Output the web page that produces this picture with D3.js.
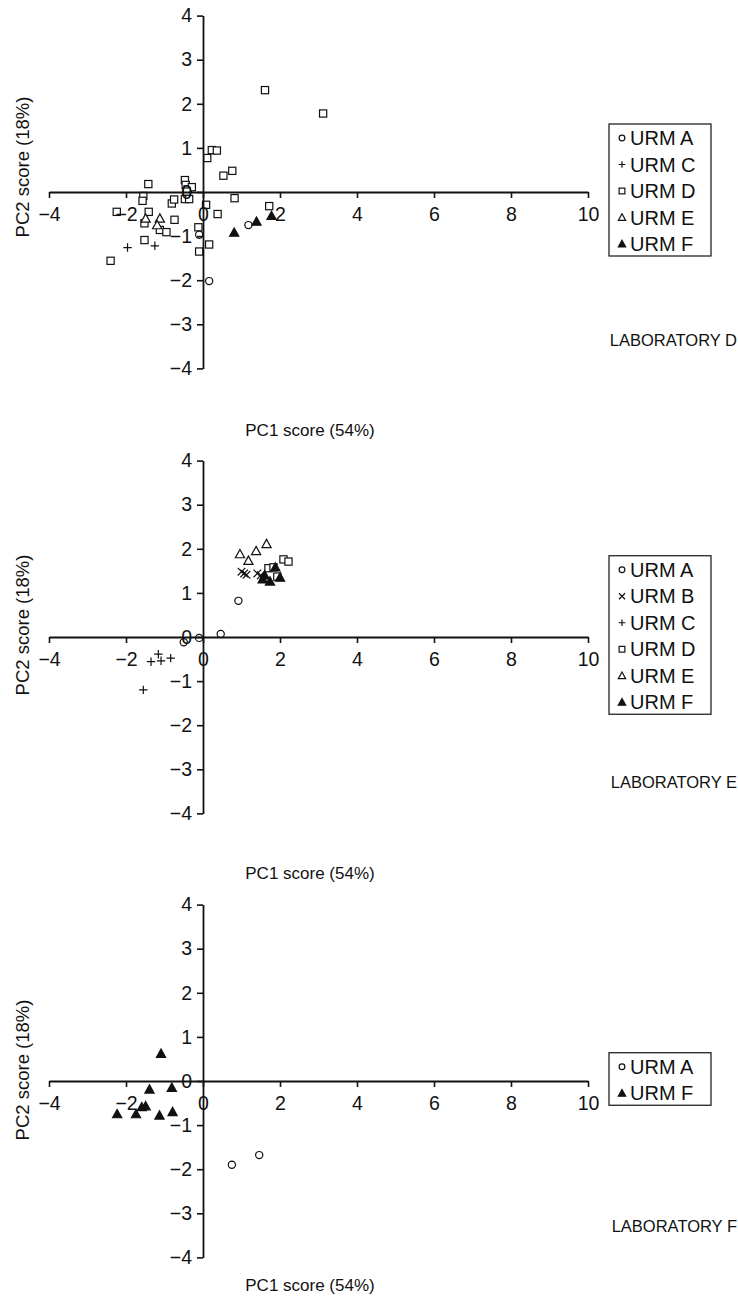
<!DOCTYPE html>
<html><head><meta charset="utf-8">
<script src="https://cdn.jsdelivr.net/npm/d3@7"></script>
<style>
html,body{margin:0;padding:0;background:#fff;}
text{font-family:"Liberation Sans",Arial,Helvetica,sans-serif;fill:#111;}
</style></head>
<body>
<svg id="chart" width="738" height="1303"></svg>
<script>
// ---------- DATA ----------
const xTicks = [-4, -2, 0, 2, 4, 6, 8, 10];
const yTicks = [-4, -3, -2, -1, 0, 1, 2, 3, 4];
const xTitle = "PC1 score (54%)";
const yTitle = "PC2 score (18%)";
const labTitles = ["LABORATORY D", "LABORATORY E", "LABORATORY F"];

// Laboratory D
const labD_A = [[-0.10,-0.97],[0.16,-2.02],[1.18,-0.75]];
const labD_C = [[-1.96,-1.26],[-1.25,-1.22]];
const labD_D = [[0.11,0.77],[0.23,0.95],[0.36,0.94],[0.53,0.37],[0.76,0.48],[0.82,-0.14],
  [-1.42,0.18],[-1.55,-0.09],[-1.57,-0.20],[-2.24,-0.45],[-1.41,-0.45],[-1.52,-0.71],
  [-1.52,-1.09],[-2.40,-1.56],[-1.12,-0.86],[-0.95,-0.91],[-0.74,-0.63],[-0.81,-0.26],
  [-0.75,-0.17],[-0.47,0.27],[-0.45,0.16],[-0.40,0.06],[-0.29,0.11],[-0.47,-0.16],
  [-0.36,-0.16],[-0.42,0.01],[0.08,-0.29],[0.38,-0.50],[-0.12,-0.80],[-0.10,-1.35],
  [0.16,-1.19],[1.61,2.31],[3.12,1.78],[1.72,-0.32]];
const labD_E = [[-1.49,-0.60],[-1.12,-0.60],[-1.19,-0.75]];
const labD_F = [[0.81,-0.92],[1.39,-0.67],[1.78,-0.54]];

// Laboratory E
const labE_A = [[-0.10,-0.02],[0.46,0.07],[0.92,0.82],[-0.50,-0.12]];
const labE_B = [[1.00,1.48],[1.07,1.44],[1.13,1.41],[1.41,1.44],[1.50,1.40]];
const labE_C = [[-1.16,-0.39],[-0.84,-0.48],[-1.35,-0.56],[-1.09,-0.54],[-1.55,-1.20]];
const labE_D = [[2.09,1.76],[2.22,1.71],[1.70,1.56],[1.83,1.58],[1.93,1.37]];
const labE_E = [[0.96,1.88],[1.18,1.73],[1.38,1.95],[1.65,2.11]];
const labE_F = [[1.55,1.31],[1.74,1.26],[1.88,1.58],[2.00,1.35],[1.60,1.40]];

// Laboratory F
const labF_A = [[0.75,-1.90],[1.46,-1.68]];
const labF_F = [[-1.09,0.62],[-1.39,-0.19],[-0.81,-0.15],[-1.59,-0.59],[-1.49,-0.57],
  [-2.23,-0.75],[-1.74,-0.75],[-1.13,-0.78],[-0.79,-0.70]];

const legendD = ["URM A","URM C","URM D","URM E","URM F"];
const legendE = ["URM A","URM B","URM C","URM D","URM E","URM F"];
const legendF = ["URM A","URM F"];

// marker type per URM
const markerOf = {"URM A":"circle","URM B":"times","URM C":"plus","URM D":"square","URM E":"triOpen","URM F":"triFill"};

const panels = [
  {axisY:192, yTitleY:167, xTitleY:436, labY:346, title:labTitles[0], legend:legendD,
   series:[["URM D",labD_D],["URM C",labD_C],["URM E",labD_E],["URM A",labD_A],["URM F",labD_F]]},
  {axisY:637, yTitleY:625, xTitleY:879, labY:788, title:labTitles[1], legend:legendE,
   series:[["URM A",labE_A],["URM C",labE_C],["URM E",labE_E],["URM B",labE_B],["URM D",labE_D],["URM F",labE_F]]},
  {axisY:1081, yTitleY:1070, xTitleY:1291, labY:1232, title:labTitles[2], legend:legendF,
   series:[["URM A",labF_A],["URM F",labF_F]]}
];

// ---------- DRAW ----------
const svg = d3.select("#chart");
const x = d3.scaleLinear().domain([-4,10]).range([49,588]);
const unitY = 44.1;

function drawMarker(g, type, s){
  const sw = 1.2;
  if(type==="circle"){
    g.append("circle").attr("r",3.6*s).attr("fill","#fff").attr("stroke","#111").attr("stroke-width",sw);
  } else if(type==="square"){
    const h=3.6*s;
    g.append("rect").attr("x",-h).attr("y",-h).attr("width",2*h).attr("height",2*h)
      .attr("fill","#fff").attr("stroke","#111").attr("stroke-width",sw);
  } else if(type==="plus"){
    const h=4.2*s;
    g.append("path").attr("d",`M${-h},0H${h}M0,${-h}V${h}`).attr("stroke","#111").attr("stroke-width",sw).attr("fill","none");
  } else if(type==="times"){
    const h=3.8*s;
    g.append("path").attr("d",`M${-h},${-h}L${h},${h}M${-h},${h}L${h},${-h}`).attr("stroke","#111").attr("stroke-width",sw).attr("fill","none");
  } else if(type==="triOpen" || type==="triFill"){
    const h=4.6*s;
    g.append("path").attr("d",`M0,${-h}L${h},${h*0.8}L${-h},${h*0.8}Z`)
      .attr("fill", type==="triFill" ? "#111" : "#fff").attr("stroke","#111").attr("stroke-width",sw)
      .attr("stroke-linejoin","miter");
  }
}

panels.forEach((p,i)=>{
  const y = d3.scaleLinear().domain([-4,4]).range([p.axisY+4*unitY, p.axisY-4*unitY]);
  const g = svg.append("g");

  // points
  p.series.forEach(([name,pts])=>{
    pts.forEach(d=>{
      const mg = g.append("g").attr("transform",`translate(${x(d[0])},${y(d[1])})`);
      drawMarker(mg, markerOf[name], 1);
    });
  });

  // x axis
  const xa = g.append("g").attr("transform",`translate(0,${p.axisY})`)
    .call(d3.axisBottom(x).tickValues(xTicks).tickSize(6).tickSizeOuter(0).tickPadding(9));
  // y axis
  const ya = g.append("g").attr("transform",`translate(${x(0)},0)`)
    .call(d3.axisLeft(y).tickValues(yTicks).tickSize(6).tickSizeOuter(0).tickPadding(5));
  [xa,ya].forEach(a=>{
    a.selectAll("path.domain").attr("stroke","#111").attr("stroke-width",1.8);
    a.selectAll(".tick line").attr("stroke","#111").attr("stroke-width",1.6);
    a.selectAll(".tick text").attr("font-size",19.5).attr("font-family","Liberation Sans, Arial, sans-serif").attr("fill","#111");
  });

  // axis titles
  g.append("text").attr("transform",`translate(29,${p.yTitleY}) rotate(-90)`)
    .attr("text-anchor","middle").attr("font-size",18.5).text(yTitle);
  g.append("text").attr("x",310).attr("y",p.xTitleY).attr("text-anchor","middle")
    .attr("font-size",17).text(xTitle);
  g.append("text").attr("x",737).attr("y",p.labY).attr("text-anchor","end")
    .attr("font-size",16.5).text(p.title);

  // legend
  const n = p.legend.length, sp = 26.5;
  const first = p.axisY - (n-1)*sp/2 - 1;
  const lg = g.append("g");
  lg.append("rect").attr("x",609).attr("y",first-14).attr("width",102)
    .attr("height",(n-1)*sp+26).attr("fill","#fff").attr("stroke","#111").attr("stroke-width",1.2);
  p.legend.forEach((name,k)=>{
    const cy = first + k*sp;
    const mg = lg.append("g").attr("transform",`translate(622,${cy})`);
    drawMarker(mg, markerOf[name], 0.8);
    lg.append("text").attr("x",630).attr("y",cy).attr("dy","0.36em").attr("font-size",20).text(name);
  });
});
</script>
</body></html>
